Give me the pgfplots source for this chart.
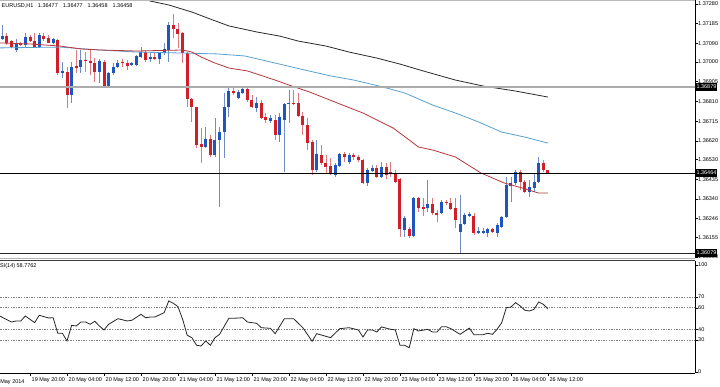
\documentclass[border=0pt]{standalone}
\usepackage{pgfplots}
\pgfplotsset{compat=1.18}
\usepackage{pgfplotstable}
\usepackage{fontspec}
\setmainfont{Liberation Sans}
\definecolor{cblue}{HTML}{1F55BE}
\definecolor{cred}{HTML}{D21E28}
\definecolor{wblue}{HTML}{6F8CC4}
\definecolor{wred}{HTML}{DC7A80}
\definecolor{maBlack}{HTML}{2A2A2A}
\definecolor{maBlue}{HTML}{58A2D2}
\definecolor{maRed}{HTML}{B8363C}
\newcommand\tf{\fontsize{5.5}{6}\selectfont}

\pgfplotstableread{
x o h l c
-6 1.37111 1.37178 1.37106 1.37125
-3 1.37058 1.37111 1.37048 1.37092
-1 1.37082 1.37140 1.37072 1.37121
2 1.37072 1.37140 1.37068 1.37130
5 1.37092 1.37116 1.37087 1.37111
7 1.36947 1.37000 1.36923 1.36957
9 1.36841 1.37000 1.36802 1.36976
11 1.36976 1.37058 1.36947 1.37010
15 1.36952 1.37015 1.36899 1.37005
17 1.36884 1.36952 1.36879 1.36947
18 1.36947 1.36995 1.36937 1.36976
19 1.36976 1.37010 1.36971 1.36995
22 1.36986 1.37000 1.36981 1.36995
23 1.36986 1.37034 1.36981 1.37029
24 1.37024 1.37072 1.37019 1.37048
26 1.37015 1.37048 1.37000 1.37024
28 1.37015 1.37048 1.36990 1.37043
29 1.37043 1.37092 1.37034 1.37063
30 1.37058 1.37193 1.37000 1.37178
38 1.36590 1.36687 1.36585 1.36629
40 1.36552 1.36730 1.36542 1.36624
41 1.36624 1.36687 1.36301 1.36662
42 1.36662 1.36851 1.36537 1.36783
43 1.36783 1.36875 1.36735 1.36860
45 1.36826 1.36865 1.36822 1.36855
46 1.36851 1.36875 1.36846 1.36870
49 1.36778 1.36831 1.36759 1.36802
52 1.36716 1.36744 1.36706 1.36730
54 1.36648 1.36754 1.36614 1.36735
55 1.36720 1.36802 1.36470 1.36797
56 1.36797 1.36865 1.36706 1.36802
62 1.36479 1.36624 1.36470 1.36556
66 1.36455 1.36513 1.36446 1.36503
67 1.36499 1.36561 1.36494 1.36556
69 1.36518 1.36561 1.36508 1.36552
73 1.36417 1.36489 1.36402 1.36479
74 1.36474 1.36503 1.36470 1.36489
76 1.36446 1.36518 1.36441 1.36494
81 1.36190 1.36257 1.36156 1.36248
83 1.36161 1.36349 1.36156 1.36344
86 1.36296 1.36431 1.36277 1.36315
89 1.36272 1.36335 1.36267 1.36325
93 1.36180 1.36359 1.36079 1.36219
94 1.36219 1.36272 1.36214 1.36262
95 1.36257 1.36277 1.36253 1.36267
97 1.36175 1.36204 1.36171 1.36185
98 1.36175 1.36200 1.36171 1.36185
99 1.36175 1.36200 1.36156 1.36195
101 1.36175 1.36224 1.36156 1.36214
102 1.36204 1.36257 1.36200 1.36253
103 1.36253 1.36446 1.36248 1.36407
104 1.36402 1.36446 1.36325 1.36417
105 1.36417 1.36479 1.36407 1.36470
108 1.36373 1.36431 1.36349 1.36397
109 1.36392 1.36465 1.36373 1.36421
110 1.36421 1.36542 1.36417 1.36513
}\up

\pgfplotstableread{
x o h l c
-5 1.37125 1.37140 1.37082 1.37092
-4 1.37101 1.37106 1.37068 1.37072
-2 1.37092 1.37096 1.37077 1.37082
0 1.37121 1.37130 1.37096 1.37101
1 1.37101 1.37140 1.37068 1.37072
3 1.37125 1.37140 1.37101 1.37111
4 1.37116 1.37130 1.37090 1.37092
6 1.37106 1.37111 1.36937 1.36947
8 1.36952 1.36976 1.36778 1.36841
10 1.36981 1.37058 1.36947 1.36971
12 1.37010 1.37048 1.36952 1.37005
13 1.37005 1.37058 1.36937 1.36995
14 1.36995 1.37019 1.36904 1.36952
16 1.37000 1.37010 1.36879 1.36884
20 1.37000 1.37015 1.36976 1.36995
21 1.36995 1.37010 1.36961 1.36981
25 1.37048 1.37058 1.37000 1.37010
27 1.37024 1.37043 1.37010 1.37015
31 1.37178 1.37231 1.37116 1.37159
32 1.37159 1.37188 1.37068 1.37135
33 1.37140 1.37145 1.36995 1.37043
34 1.37043 1.37048 1.36783 1.36822
35 1.36822 1.36826 1.36711 1.36783
36 1.36783 1.36785 1.36585 1.36600
37 1.36605 1.36682 1.36513 1.36590
39 1.36629 1.36648 1.36542 1.36552
44 1.36860 1.36879 1.36841 1.36851
47 1.36870 1.36875 1.36807 1.36817
48 1.36817 1.36841 1.36778 1.36783
50 1.36802 1.36817 1.36725 1.36730
51 1.36735 1.36754 1.36706 1.36720
53 1.36720 1.36744 1.36624 1.36648
57 1.36802 1.36865 1.36793 1.36797
58 1.36802 1.36851 1.36735 1.36740
59 1.36740 1.36759 1.36648 1.36696
60 1.36696 1.36730 1.36576 1.36609
61 1.36614 1.36624 1.36455 1.36479
63 1.36552 1.36600 1.36503 1.36513
64 1.36513 1.36552 1.36465 1.36494
65 1.36499 1.36537 1.36455 1.36465
68 1.36556 1.36566 1.36518 1.36542
70 1.36552 1.36561 1.36527 1.36542
71 1.36542 1.36552 1.36518 1.36527
72 1.36527 1.36532 1.36412 1.36417
75 1.36489 1.36503 1.36441 1.36446
77 1.36494 1.36513 1.36436 1.36455
78 1.36470 1.36518 1.36446 1.36460
79 1.36465 1.36479 1.36417 1.36421
80 1.36436 1.36441 1.36156 1.36195
82 1.36195 1.36204 1.36151 1.36161
84 1.36344 1.36349 1.36277 1.36296
85 1.36301 1.36344 1.36257 1.36291
87 1.36315 1.36344 1.36262 1.36272
88 1.36272 1.36286 1.36228 1.36262
90 1.36325 1.36335 1.36310 1.36320
91 1.36320 1.36344 1.36286 1.36291
92 1.36296 1.36344 1.36200 1.36238
96 1.36257 1.36272 1.36166 1.36175
100 1.36195 1.36200 1.36175 1.36180
106 1.36470 1.36479 1.36383 1.36421
107 1.36421 1.36431 1.36368 1.36373
111 1.36513 1.36527 1.36470 1.36479
112 1.36477 1.36477 1.36458 1.36458
}\dn

\pgfplotstableread{
x p
22 1.37318
24 1.37309
26 1.37294
30 1.37275
35 1.37241
39 1.37207
43 1.37174
49 1.37145
54 1.37125
58 1.37101
64 1.37077
69 1.37048
75 1.37019
80 1.36990
85 1.36957
92 1.36913
98 1.36884
105 1.36860
112 1.36831
}\mablack

\pgfplotstableread{
x p
-6.5 1.37068
0 1.37070
6.5 1.37072
15 1.37058
23 1.37048
33.5 1.37043
40.5 1.37039
46.5 1.37029
53 1.36995
58.5 1.36966
65 1.36933
70 1.36913
75.5 1.36884
81 1.36851
87 1.36793
92 1.36754
97 1.36711
102 1.36662
107 1.36638
112 1.36609
}\mablue

\pgfplotstableread{
x p
-6.5 1.37092
0 1.37087
6.5 1.37077
11 1.37063
15 1.37058
23 1.37053
33 1.37058
35 1.37048
37 1.37024
40 1.36995
43 1.36971
47 1.36957
53 1.36913
56 1.36889
60.5 1.36855
66.5 1.36802
72 1.36754
78.5 1.36682
82 1.36624
84 1.36590
87 1.36576
92 1.36542
97.5 1.36465
102.5 1.36417
106.5 1.36392
110 1.36368
112 1.36368
}\mared

\pgfplotstableread{
x v
-6.5 52.3
-6 51.0
-4 46.7
-3 47.7
-2 47.7
-1 52.3
1 46.1
2 53.0
4 50.5
5 50.7
6 36.2
7 36.2
8 29.0
9 43.6
10 43.0
11 46.7
12 46.7
13 44.6
14 47.4
15 43.0
16 39.3
17 44.6
19 49.8
21 47.7
22 48.3
24 53.9
25 50.7
26 51.4
27 51.4
29 55.4
30 66.4
31 64.2
32 61.0
33 49.3
34 34.3
35 32.1
36 25.0
37 24.3
38 29.0
39 25.0
40 32.1
41 35.2
43 50.2
44 50.2
46 50.7
47 46.7
49 45.5
50 41.4
52 40.8
53 35.8
55 49.8
57 49.8
59 41.4
61 28.7
62 35.8
65 32.1
67 40.5
69 41.4
71 39.3
72 32.7
73 39.3
74 39.3
75 37.4
76 42.1
78 39.9
79 39.3
80 25.0
81 25.0
82 22.7
83 40.5
84 38.3
86 39.9
87 37.4
88 37.4
89 42.3
90 42.3
91 40.5
93 35.2
95 41.0
96 34.9
98 34.9
99 36.2
100 35.2
101 39.9
102 46.1
103 60.1
104 60.7
105 64.8
106 61.7
107 57.7
108 57.0
109 58.6
110 65.4
111 63.3
112 58.78
}\rsi

\begin{document}
\begin{tikzpicture}[x=1pt,y=1pt]
\path[use as bounding box, fill=white] (0,0) rectangle (720,-386);

% ---------- price pane ----------
\begin{axis}[
  at={(0pt,0pt)}, anchor=north west, scale only axis,
  width=695pt, height=257pt,
  xmin=-6.49, xmax=143.8, ymin=1.360597, ymax=1.37299,
  axis x line=none, axis y line*=right,
  y axis line style={-, black, line width=0.8pt},
  scaled y ticks=false,
  ytick={1.36060,1.36155,1.36246,1.36340,1.36435,1.36530,1.36620,1.36715,1.36810,1.36905,1.37000,1.37090,1.37185,1.37280},
  yticklabels={1.36060,1.36155,1.36246,1.36340,1.36435,1.36530,1.36620,1.36715,1.36810,1.36905,1.37000,1.37090,1.37185,1.37280},
  yticklabel style={font=\tf, anchor=west, inner sep=0pt, xshift=0pt},
  tick align=outside, major tick length=3pt,
  ytick style={black, line width=0.5pt},
  candle/.style={draw=none, mark=none, forget plot,
    error bars/y dir=minus, error bars/y explicit, error bars/error mark=none},
]
% wicks
\addplot[candle, error bars/error bar style={draw=wblue, line width=0.9pt}]
  table[x=x, y=h, y error minus expr={\thisrow{h}-\thisrow{l}}] {\up};
\addplot[candle, error bars/error bar style={draw=wred, line width=0.9pt}]
  table[x=x, y=h, y error minus expr={\thisrow{h}-\thisrow{l}}] {\dn};
% bodies
\addplot[candle, error bars/error bar style={draw=cblue, line width=3pt}]
  table[x=x, y=c, y error minus expr={\thisrow{c}-\thisrow{o}}] {\up};
\addplot[candle, error bars/error bar style={draw=cred, line width=3pt}]
  table[x=x, y=o, y error minus expr={\thisrow{o}-\thisrow{c}}] {\dn};
% moving averages
\addplot[maBlue, line width=0.8pt, mark=none] table[x=x,y=p] {\mablue};
\addplot[maRed, line width=0.8pt, mark=none] table[x=x,y=p] {\mared};
\addplot[maBlack, line width=0.8pt, mark=none] table[x=x,y=p] {\mablack};
% horizontal levels
\addplot[gray!65, line width=1.6pt, mark=none] coordinates {(-7,1.36879) (145,1.36879)};
\addplot[black, line width=0.7pt, mark=none] coordinates {(-7,1.36464) (145,1.36464)};
\addplot[black!85, line width=0.7pt, mark=none] coordinates {(-7,1.36079) (145,1.36079)};
\end{axis}

% ---------- RSI pane ----------
\begin{axis}[
  at={(0pt,-261pt)}, anchor=north west, scale only axis,
  width=695pt, height=112pt,
  xmin=-6.49, xmax=143.8, ymin=-0.93, ymax=103.7,
  axis x line*=bottom, axis y line*=right,
  axis line style={-, black, line width=0.8pt},
  ytick={0,30,40,60,70,100},
  yticklabels={0,30,40,60,70,100},
  yticklabel style={font=\tf, anchor=west, inner sep=0pt},
  xtick={0,8,...,112},
  xticklabels={19 May 20:00,20 May 04:00,20 May 12:00,20 May 20:00,21 May 04:00,21 May 12:00,21 May 20:00,22 May 04:00,22 May 12:00,22 May 20:00,23 May 04:00,23 May 12:00,25 May 20:00,26 May 04:00,26 May 12:00},
  xticklabel style={font=\tf, anchor=north west, inner sep=0pt, xshift=1.5pt, yshift=-1.5pt},
  tick align=outside, major tick length=3pt,
  tick style={black, line width=0.5pt},
]
\addplot[black!50, line width=0.6pt, dash pattern=on 1.3pt off 1.3pt, mark=none] coordinates {(-7,70) (145,70)};
\addplot[black!50, line width=0.6pt, dash pattern=on 1.3pt off 1.3pt, mark=none] coordinates {(-7,60) (145,60)};
\addplot[black!50, line width=0.6pt, dash pattern=on 1.3pt off 1.3pt, mark=none] coordinates {(-7,40) (145,40)};
\addplot[black!50, line width=0.6pt, dash pattern=on 1.3pt off 1.3pt, mark=none] coordinates {(-7,30) (145,30)};
\addplot[black!85, line width=0.8pt, mark=none] table[x=x,y=v] {\rsi};
\end{axis}

% separators and frame
\draw[gray!55, line width=1.2pt] (0,-0.6) -- (695,-0.6);
\draw[gray!60, line width=1pt] (0,-258) -- (695,-258);
\draw[black!75, line width=1pt] (0,-260.5) -- (695,-260.5);

% texts
\node[anchor=base west, font=\tf, inner sep=0pt] at (1.5,-7.5)
  {EURUSD,H1\hspace{4.5pt}1.36477\hspace{5pt}1.36477\hspace{5pt}1.36458\hspace{5pt}1.36458};
\node[anchor=base west, font=\tf, inner sep=0pt] at (-4,-267.7) {RSI(14) 58.7762};
\node[anchor=base west, font=\tf, inner sep=0pt] at (-7.5,-383.5) {19 May 2014};

% price boxes
\node[anchor=west, fill=black, text=white, font=\tf, inner sep=0.8pt, minimum height=7.5pt] at (695.5,-87) {1.36879};
\node[anchor=west, fill=black, text=white, font=\tf, inner sep=0.8pt, minimum height=7.5pt] at (695.5,-173) {1.36464};
\node[anchor=west, fill=black, text=white, font=\tf, inner sep=0.8pt, minimum height=7.5pt] at (695.5,-253) {1.36079};
\end{tikzpicture}
\end{document}
